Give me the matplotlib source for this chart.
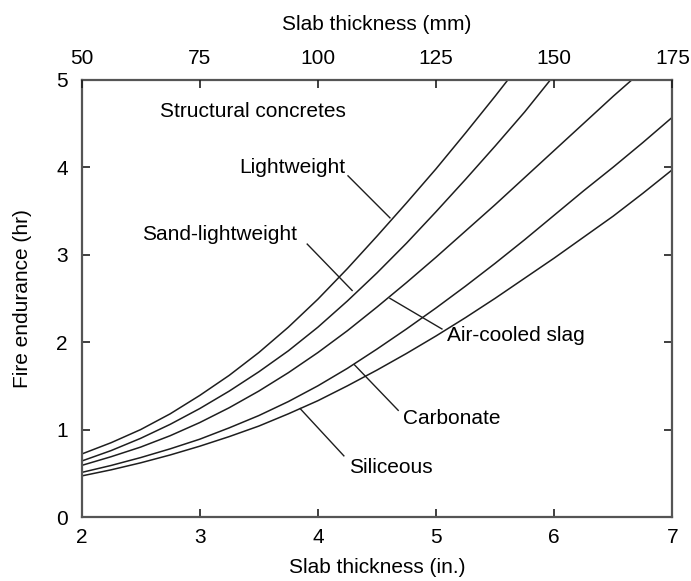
import matplotlib
matplotlib.use("Agg")
import matplotlib.pyplot as plt

plt.rcParams['font.family'] = ['Liberation Sans', 'DejaVu Sans']

# Fire endurance (hr) vs. slab thickness (in.) for structural concretes
lightweight_x = [2.0, 2.25, 2.5, 2.75, 3.0, 3.25, 3.5, 3.75, 4.0, 4.25,
                 4.5, 4.75, 5.0, 5.25, 5.5, 5.61]
lightweight_y = [0.72, 0.85, 1.00, 1.18, 1.39, 1.62, 1.88, 2.17, 2.49, 2.84,
                 3.21, 3.59, 3.98, 4.39, 4.81, 5.00]

sand_lw_x = [2.0, 2.25, 2.5, 2.75, 3.0, 3.25, 3.5, 3.75, 4.0, 4.25,
             4.5, 4.75, 5.0, 5.25, 5.5, 5.75, 5.97]
sand_lw_y = [0.64, 0.76, 0.90, 1.06, 1.24, 1.44, 1.66, 1.90, 2.17, 2.47,
             2.79, 3.13, 3.49, 3.86, 4.24, 4.63, 5.00]

slag_x = [2.0, 2.25, 2.5, 2.75, 3.0, 3.25, 3.5, 3.75, 4.0, 4.25,
          4.5, 4.75, 5.0, 5.25, 5.5, 5.75, 6.0, 6.25, 6.5, 6.66]
slag_y = [0.59, 0.69, 0.80, 0.93, 1.08, 1.25, 1.44, 1.65, 1.88, 2.13,
          2.40, 2.68, 2.97, 3.27, 3.57, 3.88, 4.19, 4.50, 4.81, 5.00]

carbonate_x = [2.0, 2.25, 2.5, 2.75, 3.0, 3.25, 3.5, 3.75, 4.0, 4.25,
               4.5, 4.75, 5.0, 5.25, 5.5, 5.75, 6.0, 6.25, 6.5, 6.75, 7.0]
carbonate_y = [0.51, 0.59, 0.68, 0.78, 0.89, 1.02, 1.16, 1.32, 1.50, 1.70,
               1.92, 2.15, 2.39, 2.64, 2.90, 3.17, 3.45, 3.73, 4.00, 4.28, 4.57]

siliceous_x = [2.0, 2.25, 2.5, 2.75, 3.0, 3.25, 3.5, 3.75, 4.0, 4.25,
               4.5, 4.75, 5.0, 5.25, 5.5, 5.75, 6.0, 6.25, 6.5, 6.75, 7.0]
siliceous_y = [0.47, 0.54, 0.62, 0.71, 0.81, 0.92, 1.04, 1.18, 1.33, 1.50,
               1.68, 1.87, 2.07, 2.28, 2.50, 2.73, 2.96, 3.20, 3.44, 3.70, 3.97]

x_ticks_in = [2, 3, 4, 5, 6, 7]
y_ticks_hr = [0, 1, 2, 3, 4, 5]
top_ticks_mm = [50, 75, 100, 125, 150, 175]

ink = '#1e1e1e'
spine_c = '#555555'
fs = 15

fig = plt.figure(figsize=(6.91, 5.81), dpi=100)
ax = fig.add_axes([0.118, 0.110, 0.855, 0.753])

for xs, ys in [(lightweight_x, lightweight_y), (sand_lw_x, sand_lw_y),
               (slag_x, slag_y), (carbonate_x, carbonate_y),
               (siliceous_x, siliceous_y)]:
    ax.plot(xs, ys, color=ink, lw=1.1, solid_joinstyle='round')

ax.set_xlim(2, 7)
ax.set_ylim(0, 5)
ax.set_xticks(x_ticks_in)
ax.set_yticks(y_ticks_hr)
ax.tick_params(direction='in', length=6, width=1.2, color=ink,
               labelsize=fs, right=True, top=False)
ax.tick_params(axis='x', pad=8)
ax.tick_params(axis='y', pad=10)
for s in ax.spines.values():
    s.set_color(spine_c)
    s.set_linewidth(1.6)
ax.set_xlabel('Slab thickness (in.)', fontsize=fs, labelpad=8)
ax.set_ylabel('Fire endurance (hr)', fontsize=fs, labelpad=17)

# millimetre scale along the top
axt = ax.twiny()
axt.set_xlim(top_ticks_mm[0], top_ticks_mm[-1])
axt.set_xticks(top_ticks_mm)
axt.tick_params(direction='in', length=6, width=1.2, color=ink,
                labelsize=fs, pad=8)
for s in axt.spines.values():
    s.set_visible(False)
axt.set_xlabel('Slab thickness (mm)', fontsize=fs, labelpad=14)

ax.text(2.66, 4.64, 'Structural concretes', fontsize=fs, va='center', ha='left')

ax.text(4.23, 3.99, 'Lightweight', fontsize=fs, va='center', ha='right')
ax.plot([4.255, 4.61], [3.90, 3.42], color=ink, lw=1.0)

ax.text(3.82, 3.23, 'Sand-lightweight', fontsize=fs, va='center', ha='right')
ax.plot([3.91, 4.29], [3.12, 2.59], color=ink, lw=1.0)

ax.text(5.09, 2.08, 'Air-cooled slag', fontsize=fs, va='center', ha='left')
ax.plot([4.61, 5.05], [2.50, 2.15], color=ink, lw=1.0)

ax.text(4.72, 1.13, 'Carbonate', fontsize=fs, va='center', ha='left')
ax.plot([4.31, 4.68], [1.74, 1.22], color=ink, lw=1.0)

ax.text(4.26, 0.57, 'Siliceous', fontsize=fs, va='center', ha='left')
ax.plot([3.85, 4.22], [1.24, 0.70], color=ink, lw=1.0)

fig.savefig('out.png', dpi=100)
